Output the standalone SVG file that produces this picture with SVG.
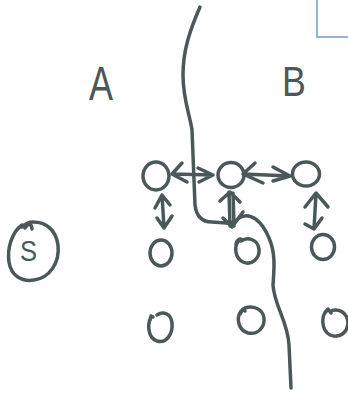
<svg xmlns="http://www.w3.org/2000/svg" width="348" height="394" viewBox="0 0 348 394">
<style>
.s{fill:none;stroke:#4b5859;stroke-width:3.5;stroke-linecap:round;stroke-linejoin:round}
.t{font-family:"Liberation Sans",Arial,sans-serif;fill:#4b5859}
</style>
<rect width="348" height="394" fill="#ffffff"/>
<path d="M317,0 L317,37 L348,37" fill="none" stroke="#6f9bd1" stroke-width="1.5"/>
<g id="divider">
<path class="s" d="M200,7 C190,30 183,50 183,75 C183,100 190,115 192,130 L195,205 Q197,222 212,222 L226,223 Q233,224 239,218 C250,211 262,221 269,238 C276,254 274,270 273,285 C274,305 288,322 289,345 L291,388"/>
</g>
<g id="label-A"><text class="t" transform="translate(89,100) scale(0.75,1)" font-size="48">A</text></g>
<g id="label-B"><text class="t" transform="translate(282,96) scale(0.85,1)" font-size="42">B</text></g>
<g id="node-S">
<path class="s" d="M22,225 C12,232 7,248 9,262 C11,276 22,282 34,280 C50,278 60,262 58,245 C56,230 46,222 33,222 C27,222 24,225 22,227 M25,228 C28,224 31,222 32,229"/>
<text class="t" transform="translate(20,261) scale(0.85,1)" font-size="30">S</text>
</g>
<g id="n1"><ellipse class="s" cx="156" cy="176" rx="13" ry="14"/></g>
<g id="n2"><ellipse class="s" cx="231" cy="175" rx="13" ry="12.5"/></g>
<g id="n3"><ellipse class="s" cx="306" cy="174" rx="13.5" ry="12"/></g>
<g id="n4"><ellipse class="s" cx="161" cy="253" rx="11" ry="13"/></g>
<g id="n5"><path class="s" d="M238,242 C234,247 235,258 243,262 C252,266 260,258 259,249 C258,240 248,236 241,241 M236,245 C236,240 240,238 242,240"/></g>
<g id="n6"><ellipse class="s" cx="323" cy="247" rx="11.5" ry="12.5"/></g>
<g id="n7"><path class="s" d="M151,317 C147,325 148,338 157,341 C167,344 173,333 172,323 C171,313 163,311 157,315 M150,320 L151,316 L153,317"/></g>
<g id="n8"><path class="s" d="M241,311 C236,318 238,330 248,333 C258,335 265,327 264,318 C263,309 253,305 245,308 M240,314 L243,309 L245,311"/></g>
<g id="n9"><path class="s" d="M327,310 C321,316 321,330 330,335 C340,339 348,332 348,322 C347,312 338,308 331,311 M325,313 L328,309 L331,313"/></g>
<g id="connectors">
<path class="s" d="M172,174 L213,175 M182,163 L172,174 L187,182 M198,168 L213,175 L199,182"/>
<path class="s" d="M243,174 L290,176 M255,163 L243,174 L263,183 M273,167 L290,176 L273,181"/>
<path class="s" d="M162,195 L164,228 M155,208 L162,195 L170,205 M157,218 L164,228 L172,216"/>
<path class="s" d="M229,192 L230,226 M233,193 L234,226 M220,201 L230,192 L240,202 M223,218 L232,227 L243,212"/>
<path class="s" d="M316,193 L314,229 M305,207 L316,193 L328,207 M305,224 L314,229 L322,218"/>
</g>
</svg>
